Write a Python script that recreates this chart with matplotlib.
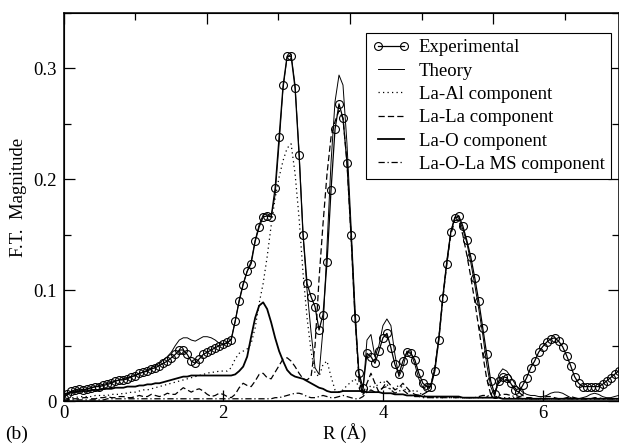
import numpy as np
import matplotlib
matplotlib.use("Agg")
import matplotlib.pyplot as plt
from matplotlib.ticker import MultipleLocator

plt.rcParams['font.family'] = ['Liberation Serif', 'DejaVu Serif']
plt.rcParams['mathtext.fontset'] = 'stix'

# R grid (Angstrom), step 0.05 from 0 to 7.0
r = np.round(np.arange(141) * 0.05, 2)

experimental = [
    0.003, 0.006, 0.009, 0.010, 0.011, 0.010, 0.011, 0.012, 0.013, 0.013,
    0.014, 0.015, 0.016, 0.018, 0.019, 0.019, 0.020, 0.022, 0.023, 0.025,
    0.026, 0.027, 0.029, 0.030, 0.032, 0.034, 0.036, 0.039, 0.042, 0.046,
    0.046, 0.042, 0.036, 0.034, 0.038, 0.042, 0.044, 0.046, 0.048, 0.050,
    0.051, 0.053, 0.055, 0.072, 0.090, 0.105, 0.117, 0.124, 0.144, 0.157,
    0.166, 0.167, 0.166, 0.192, 0.238, 0.285, 0.311, 0.311, 0.282, 0.222,
    0.150, 0.106, 0.094, 0.085, 0.064, 0.078, 0.125, 0.190, 0.245, 0.268,
    0.255, 0.215, 0.150, 0.075, 0.025, 0.012, 0.043, 0.040, 0.034, 0.045,
    0.057, 0.061, 0.048, 0.033, 0.024, 0.036, 0.044, 0.043, 0.037, 0.025,
    0.016, 0.013, 0.013, 0.027, 0.055, 0.093, 0.124, 0.152, 0.165, 0.167,
    0.158, 0.145, 0.130, 0.111, 0.090, 0.066, 0.042, 0.018, 0.006, 0.018,
    0.022, 0.021, 0.016, 0.010, 0.008, 0.014, 0.021, 0.030, 0.036, 0.044,
    0.049, 0.053, 0.056, 0.057, 0.054, 0.049, 0.041, 0.032, 0.022, 0.016,
    0.013, 0.013, 0.013, 0.013, 0.013, 0.015, 0.018, 0.021, 0.024, 0.027,
    0.029,
]

theory = [
    0.003, 0.006, 0.008, 0.009, 0.010, 0.010, 0.011, 0.012, 0.013, 0.014,
    0.015, 0.016, 0.017, 0.018, 0.019, 0.020, 0.021, 0.022, 0.023, 0.025,
    0.026, 0.028, 0.030, 0.032, 0.034, 0.037, 0.040, 0.044, 0.050, 0.055,
    0.057, 0.057, 0.055, 0.054, 0.056, 0.058, 0.058, 0.057, 0.055, 0.052,
    0.051, 0.052, 0.056, 0.072, 0.091, 0.106, 0.117, 0.126, 0.145, 0.159,
    0.168, 0.169, 0.166, 0.186, 0.232, 0.282, 0.310, 0.313, 0.285, 0.225,
    0.150, 0.100, 0.062, 0.030, 0.024, 0.065, 0.140, 0.215, 0.270, 0.294,
    0.285, 0.232, 0.160, 0.085, 0.022, 0.008, 0.055, 0.060, 0.040, 0.050,
    0.068, 0.074, 0.068, 0.042, 0.022, 0.030, 0.045, 0.044, 0.033, 0.020,
    0.012, 0.010, 0.015, 0.030, 0.058, 0.095, 0.127, 0.153, 0.166, 0.165,
    0.155, 0.143, 0.125, 0.105, 0.083, 0.060, 0.033, 0.013, 0.004, 0.024,
    0.029, 0.027, 0.022, 0.016, 0.011, 0.008, 0.006, 0.005, 0.005, 0.004,
    0.004, 0.005, 0.007, 0.008, 0.008, 0.007, 0.005, 0.003, 0.002, 0.002,
    0.003, 0.004, 0.006, 0.007, 0.006, 0.004, 0.003, 0.003, 0.004, 0.005,
    0.005,
]

la_al = [
    0.001, 0.002, 0.003, 0.003, 0.004, 0.004, 0.004, 0.004, 0.005, 0.005,
    0.005, 0.005, 0.006, 0.006, 0.006, 0.007, 0.007, 0.008, 0.008, 0.009,
    0.010, 0.010, 0.011, 0.012, 0.013, 0.014, 0.015, 0.016, 0.017, 0.018,
    0.019, 0.020, 0.021, 0.022, 0.023, 0.024, 0.025, 0.026, 0.026, 0.027,
    0.027, 0.027, 0.030, 0.038, 0.043, 0.045, 0.047, 0.052, 0.066, 0.088,
    0.106, 0.130, 0.158, 0.183, 0.202, 0.217, 0.228, 0.232, 0.205, 0.165,
    0.115, 0.075, 0.045, 0.025, 0.022, 0.033, 0.036, 0.022, 0.010, 0.008,
    0.010, 0.014, 0.017, 0.020, 0.012, 0.006, 0.010, 0.014, 0.012, 0.016,
    0.018, 0.015, 0.010, 0.012, 0.014, 0.012, 0.009, 0.008, 0.010, 0.008,
    0.005, 0.004, 0.003, 0.003, 0.003, 0.003, 0.003, 0.003, 0.003, 0.003,
    0.003, 0.003, 0.003, 0.003, 0.003, 0.003, 0.004, 0.005, 0.004, 0.003,
    0.003, 0.003, 0.003, 0.003, 0.002, 0.002, 0.002, 0.002, 0.002, 0.002,
    0.002, 0.002, 0.002, 0.002, 0.002, 0.002, 0.002, 0.002, 0.002, 0.002,
    0.002, 0.002, 0.002, 0.002, 0.002, 0.002, 0.002, 0.002, 0.002, 0.002,
    0.002,
]

la_la = [
    0.000, 0.001, 0.002, 0.002, 0.002, 0.003, 0.003, 0.002, 0.002, 0.003,
    0.003, 0.004, 0.003, 0.003, 0.004, 0.004, 0.003, 0.003, 0.004, 0.005,
    0.004, 0.004, 0.006, 0.005, 0.004, 0.005, 0.007, 0.006, 0.006, 0.009,
    0.012, 0.010, 0.008, 0.010, 0.011, 0.009, 0.006, 0.004, 0.005, 0.007,
    0.006, 0.004, 0.003, 0.006, 0.012, 0.016, 0.014, 0.013, 0.018, 0.024,
    0.025, 0.021, 0.020, 0.026, 0.032, 0.038, 0.039, 0.036, 0.031, 0.025,
    0.020, 0.019, 0.022, 0.050, 0.110, 0.160, 0.205, 0.238, 0.252, 0.262,
    0.255, 0.215, 0.150, 0.078, 0.018, 0.006, 0.016, 0.025, 0.016, 0.008,
    0.012, 0.018, 0.014, 0.010, 0.012, 0.016, 0.012, 0.008, 0.006, 0.005,
    0.006, 0.008, 0.014, 0.030, 0.056, 0.092, 0.124, 0.150, 0.163, 0.163,
    0.150, 0.132, 0.112, 0.090, 0.066, 0.042, 0.020, 0.006, 0.008, 0.016,
    0.020, 0.019, 0.016, 0.012, 0.008, 0.005, 0.003, 0.003, 0.002, 0.002,
    0.003, 0.004, 0.004, 0.003, 0.002, 0.002, 0.003, 0.004, 0.003, 0.002,
    0.002, 0.002, 0.002, 0.003, 0.003, 0.002, 0.002, 0.002, 0.002, 0.002,
    0.002,
]

la_o = [
    0.006, 0.007, 0.008, 0.008, 0.009, 0.009, 0.009, 0.010, 0.010, 0.010,
    0.011, 0.011, 0.011, 0.012, 0.012, 0.012, 0.013, 0.013, 0.013, 0.014,
    0.014, 0.015, 0.015, 0.016, 0.016, 0.017, 0.018, 0.019, 0.020, 0.021,
    0.022, 0.022, 0.023, 0.023, 0.023, 0.023, 0.023, 0.023, 0.023, 0.023,
    0.023, 0.023, 0.023, 0.024, 0.027, 0.031, 0.040, 0.058, 0.075, 0.086,
    0.089, 0.083, 0.071, 0.057, 0.045, 0.036, 0.028, 0.024, 0.022, 0.021,
    0.020, 0.018, 0.016, 0.014, 0.012, 0.011, 0.009, 0.008, 0.008, 0.008,
    0.009, 0.009, 0.009, 0.009, 0.009, 0.009, 0.008, 0.008, 0.008, 0.008,
    0.007, 0.007, 0.007, 0.006, 0.006, 0.006, 0.005, 0.005, 0.005, 0.005,
    0.004, 0.004, 0.004, 0.004, 0.004, 0.004, 0.004, 0.004, 0.004, 0.004,
    0.003, 0.003, 0.003, 0.003, 0.003, 0.003, 0.003, 0.003, 0.003, 0.003,
    0.002, 0.002, 0.002, 0.002, 0.002, 0.002, 0.002, 0.002, 0.002, 0.002,
    0.002, 0.002, 0.002, 0.002, 0.002, 0.002, 0.002, 0.002, 0.002, 0.002,
    0.002, 0.002, 0.002, 0.002, 0.002, 0.002, 0.002, 0.002, 0.002, 0.002,
    0.002,
]

la_o_la_ms = [
    0.001, 0.001, 0.001, 0.001, 0.001, 0.001, 0.001, 0.001, 0.001, 0.001,
    0.001, 0.002, 0.002, 0.002, 0.002, 0.002, 0.002, 0.002, 0.002, 0.002,
    0.002, 0.002, 0.002, 0.002, 0.002, 0.002, 0.002, 0.002, 0.002, 0.002,
    0.002, 0.002, 0.002, 0.002, 0.002, 0.002, 0.002, 0.002, 0.002, 0.002,
    0.002, 0.002, 0.002, 0.002, 0.002, 0.002, 0.002, 0.002, 0.002, 0.002,
    0.002, 0.002, 0.002, 0.003, 0.003, 0.004, 0.005, 0.006, 0.007, 0.007,
    0.006, 0.004, 0.003, 0.003, 0.004, 0.005, 0.004, 0.003, 0.003, 0.004,
    0.005, 0.004, 0.003, 0.002, 0.002, 0.004, 0.008, 0.010, 0.008, 0.009,
    0.012, 0.013, 0.010, 0.007, 0.009, 0.010, 0.007, 0.005, 0.004, 0.004,
    0.003, 0.003, 0.003, 0.003, 0.003, 0.003, 0.003, 0.003, 0.003, 0.003,
    0.003, 0.003, 0.003, 0.003, 0.004, 0.005, 0.005, 0.004, 0.003, 0.005,
    0.006, 0.006, 0.005, 0.004, 0.003, 0.002, 0.002, 0.002, 0.002, 0.002,
    0.002, 0.002, 0.002, 0.002, 0.002, 0.002, 0.002, 0.002, 0.002, 0.002,
    0.002, 0.002, 0.002, 0.002, 0.002, 0.002, 0.002, 0.002, 0.002, 0.002,
    0.002,
]

legend_labels = ["Experimental", "Theory", "La-Al component", "La-La component",
                 "La-O component", "La-O-La MS component"]

fig = plt.figure(figsize=(6.19, 4.44), dpi=100)
ax = fig.add_axes([63.5 / 619, 43 / 444, 555 / 619, 388 / 444])

ax.plot(r, experimental, color='black', lw=0.9, marker='o', ms=5.7,
        mfc='none', mec='black', mew=0.8, label=legend_labels[0], zorder=5)
ax.plot(r, theory, color='black', lw=0.7, label=legend_labels[1], zorder=4)
ax.plot(r, la_al, color='black', lw=0.9, ls=(0, (1, 2.6)), label=legend_labels[2])
ax.plot(r, la_la, color='black', lw=0.9, ls=(0, (5, 2.5)), label=legend_labels[3])
ax.plot(r, la_o, color='black', lw=1.3, label=legend_labels[4])
ax.plot(r, la_o_la_ms, color='black', lw=0.9, ls=(0, (5, 2.2, 1, 2.2)),
        label=legend_labels[5])

ax.set_xlim(0, 6.95)
ax.set_ylim(0, 0.35)

ax.yaxis.set_minor_locator(MultipleLocator(0.05))
ax.set_yticks([0, 0.1, 0.2, 0.3])
ax.set_yticklabels(["0", "0.1", "0.2", "0.3"])
ax.set_xticks([0, 2, 4, 6])
ax.set_xticklabels(["0", "2", "4", "6"])

ax.tick_params(axis='both', which='both', direction='in', labelsize=13.5,
               colors='black', width=0.9)
ax.tick_params(axis='both', which='major', length=8)
ax.tick_params(axis='both', which='minor', length=5)
ax.tick_params(axis='y', which='both', right=True)
ax.tick_params(axis='x', which='major', pad=3)
ax.tick_params(axis='y', which='major', pad=5)

for sp in ax.spines.values():
    sp.set_linewidth(1.1)

# top axis has its own tick spacing in the reference
ax2 = ax.twiny()
ax2.set_xlim(0, 7.75)
ax2.xaxis.set_major_locator(MultipleLocator(2))
ax2.xaxis.set_minor_locator(MultipleLocator(1))
ax2.tick_params(axis='x', which='both', direction='in', labeltop=False, width=0.9)
ax2.tick_params(axis='x', which='major', length=8)
ax2.tick_params(axis='x', which='minor', length=5)

leg = ax.legend(loc='upper right', bbox_to_anchor=(0.986, 0.948), fontsize=13.5,
                frameon=True, fancybox=False, edgecolor='black', framealpha=1,
                numpoints=2, handlelength=2.0, handletextpad=0.5,
                labelspacing=0.33, borderpad=0.32, borderaxespad=0)
leg.get_frame().set_linewidth(0.8)

fig.text(345 / 619, 1 - 433 / 444, "R (Å)", ha='center', va='center', fontsize=13.5)
fig.text(18.5 / 619, 1 - 197 / 444, "F.T.  Magnitude", rotation=90,
         ha='center', va='center', fontsize=13.5)
fig.text(5 / 619, 1 - 434 / 444, "(b)", ha='left', va='center', fontsize=14)

fig.savefig("out.png", dpi=100)
